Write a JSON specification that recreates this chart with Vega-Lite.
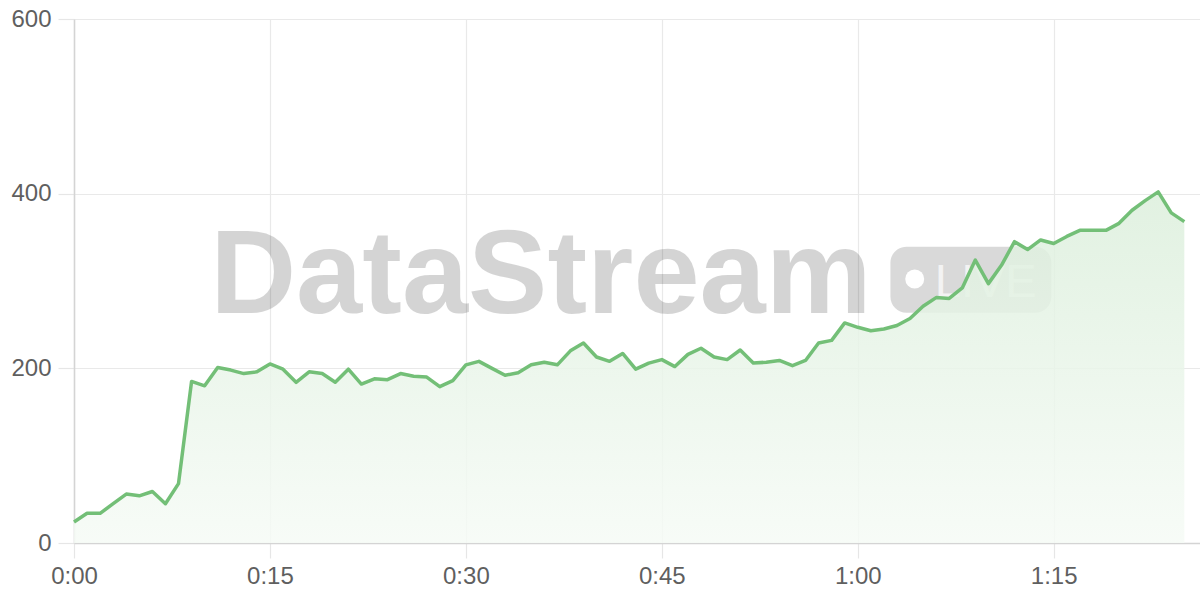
{
  "$schema": "https://vega.github.io/schema/vega-lite/v6.json",
  "width": 1126,
  "height": 524,
  "autosize": {"type": "none"},
  "padding": {"left": 74, "top": 19, "right": 0, "bottom": 57},
  "background": "#ffffff",
  "config": {
    "view": {"stroke": null},
    "font": "Liberation Sans",
    "axis": {
      "labelFont": "Liberation Sans",
      "labelFontSize": 24,
      "labelColor": "#5f5f5f",
      "gridColor": "#e9e9e9",
      "gridWidth": 1.2,
      "tickColor": "#e6e6e6",
      "tickWidth": 1.2,
      "domainColor": "#d4d4d4",
      "domainWidth": 1.5,
      "title": null
    }
  },
  "data": {
    "values": [
      {"t": 0, "v": 24}, {"t": 1, "v": 34}, {"t": 2, "v": 34}, {"t": 3, "v": 45},
      {"t": 4, "v": 56}, {"t": 5, "v": 54}, {"t": 6, "v": 59}, {"t": 7, "v": 45},
      {"t": 8, "v": 68}, {"t": 9, "v": 185}, {"t": 10, "v": 180}, {"t": 11, "v": 201},
      {"t": 12, "v": 198}, {"t": 13, "v": 194}, {"t": 14, "v": 196}, {"t": 15, "v": 205},
      {"t": 16, "v": 199}, {"t": 17, "v": 184}, {"t": 18, "v": 196}, {"t": 19, "v": 194},
      {"t": 20, "v": 184}, {"t": 21, "v": 199}, {"t": 22, "v": 182}, {"t": 23, "v": 188},
      {"t": 24, "v": 187}, {"t": 25, "v": 194}, {"t": 26, "v": 191}, {"t": 27, "v": 190},
      {"t": 28, "v": 179}, {"t": 29, "v": 186}, {"t": 30, "v": 204}, {"t": 31, "v": 208},
      {"t": 32, "v": 200}, {"t": 33, "v": 192}, {"t": 34, "v": 195}, {"t": 35, "v": 204},
      {"t": 36, "v": 207}, {"t": 37, "v": 204}, {"t": 38, "v": 220}, {"t": 39, "v": 229},
      {"t": 40, "v": 213}, {"t": 41, "v": 208}, {"t": 42, "v": 217}, {"t": 43, "v": 199},
      {"t": 44, "v": 206}, {"t": 45, "v": 210}, {"t": 46, "v": 202}, {"t": 47, "v": 216},
      {"t": 48, "v": 223}, {"t": 49, "v": 213}, {"t": 50, "v": 210}, {"t": 51, "v": 221},
      {"t": 52, "v": 206}, {"t": 53, "v": 207}, {"t": 54, "v": 209}, {"t": 55, "v": 203},
      {"t": 56, "v": 209}, {"t": 57, "v": 229}, {"t": 58, "v": 232}, {"t": 59, "v": 252},
      {"t": 60, "v": 247}, {"t": 61, "v": 243}, {"t": 62, "v": 245}, {"t": 63, "v": 249},
      {"t": 64, "v": 257}, {"t": 65, "v": 271}, {"t": 66, "v": 281}, {"t": 67, "v": 280},
      {"t": 68, "v": 292}, {"t": 69, "v": 324}, {"t": 70, "v": 297}, {"t": 71, "v": 318},
      {"t": 72, "v": 345}, {"t": 73, "v": 336}, {"t": 74, "v": 347}, {"t": 75, "v": 343},
      {"t": 76, "v": 351}, {"t": 77, "v": 358}, {"t": 78, "v": 358}, {"t": 79, "v": 358},
      {"t": 80, "v": 366}, {"t": 81, "v": 381}, {"t": 82, "v": 392}, {"t": 83, "v": 402},
      {"t": 84, "v": 378}, {"t": 85, "v": 368}
    ]
  },
  "encoding": {
    "x": {
      "field": "t",
      "type": "quantitative",
      "scale": {"domain": [0, 86.2], "nice": false, "zero": false},
      "axis": {
        "values": [0, 15, 30, 45, 60, 75],
        "labelExpr": "floor(datum.value / 60) + ':' + (datum.value % 60 < 10 ? '0' : '') + (datum.value % 60)",
        "tickSize": 15,
        "labelPadding": 6,
        "labelFlush": false
      }
    },
    "y": {
      "field": "v",
      "type": "quantitative",
      "scale": {"domain": [0, 600], "nice": false},
      "axis": {
        "values": [0, 200, 400, 600],
        "tickSize": 16,
        "labelPadding": 7
      }
    }
  },
  "layer": [
    {
      "transform": [{"filter": "datum.t === 0"}],
      "mark": {"type": "text", "font": "Liberation Sans", "fontWeight": "bold", "fontSize": 119, "align": "center", "baseline": "alphabetic", "color": "#000000", "opacity": 0.165},
      "encoding": {
        "x": {"datum": 35.74, "type": "quantitative"},
        "y": {"datum": 263.4, "type": "quantitative"},
        "text": {"value": "DataStream"}
      }
    },
    {
      "transform": [{"filter": "datum.t === 0"}],
      "mark": {"type": "rect", "cornerRadius": 16, "color": "#000000", "opacity": 0.15},
      "encoding": {
        "x": {"datum": 62.5, "type": "quantitative"},
        "x2": {"datum": 74.82},
        "y": {"datum": 339.3, "type": "quantitative"},
        "y2": {"datum": 263.7}
      }
    },
    {
      "transform": [{"filter": "datum.t === 0"}],
      "mark": {"type": "circle", "size": 360, "fill": "#ffffff", "opacity": 1, "fillOpacity": 1, "strokeWidth": 0},
      "encoding": {
        "x": {"datum": 64.36, "type": "quantitative"},
        "y": {"datum": 302.3, "type": "quantitative"}
      }
    },
    {
      "transform": [{"filter": "datum.t === 0"}],
      "mark": {"type": "text", "font": "Liberation Sans", "fontSize": 47, "align": "center", "baseline": "alphabetic", "fill": "#f3f3f3", "opacity": 1},
      "encoding": {
        "x": {"datum": 69.8, "type": "quantitative"},
        "y": {"datum": 281.7, "type": "quantitative"},
        "text": {"value": "LIVE"}
      }
    },
    {
      "mark": {
        "type": "area",
        "interpolate": "linear",
        "color": {
          "gradient": "linear",
          "x1": 0, "y1": 0, "x2": 0, "y2": 1,
          "stops": [
            {"offset": 0, "color": "#dcefdc"},
            {"offset": 1, "color": "#f6fbf6"}
          ]
        },
        "opacity": 0.85
      }
    },
    {
      "mark": {"type": "line", "color": "#73bf77", "strokeWidth": 3.5, "strokeJoin": "round"}
    }
  ]
}
